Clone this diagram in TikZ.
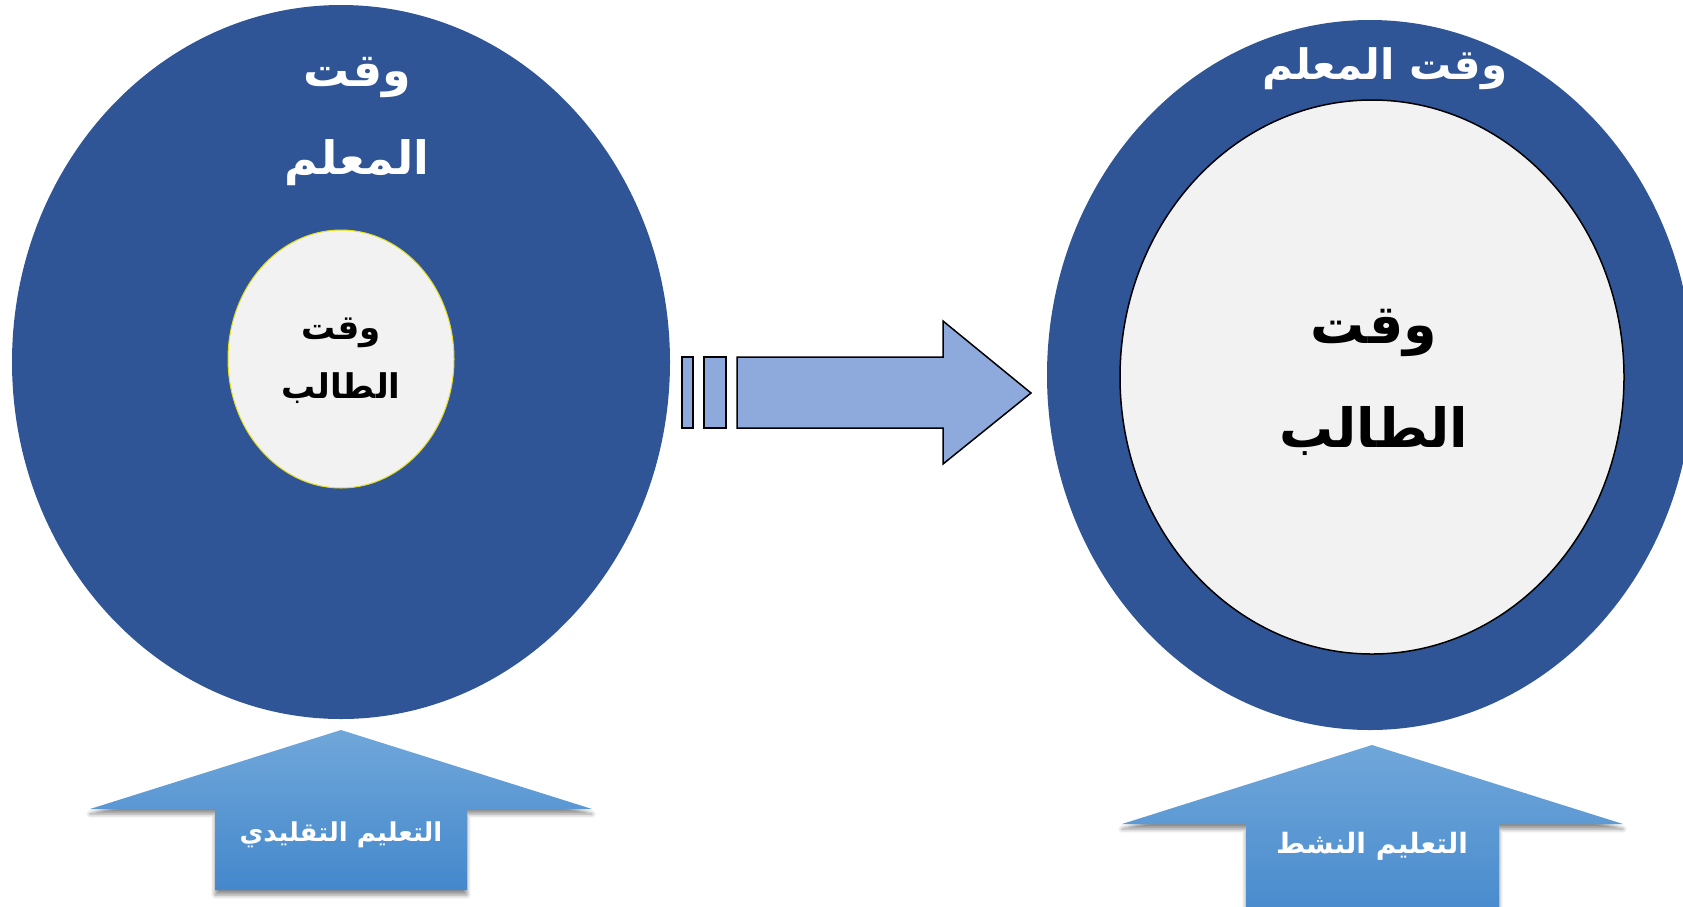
\documentclass[tikz,border=0pt]{standalone}
\usepackage{fontspec}
\newfontfamily\arabicfont[Script=Arabic]{DejaVu Sans}
\TeXXeTstate=1
\usetikzlibrary{positioning,shapes.geometric,shadows.blur}
\definecolor{TeacherBlue}{RGB}{47,85,151}
\definecolor{StudentGray}{RGB}{242,242,242}
\definecolor{ArrowBlue}{RGB}{142,169,219}
\definecolor{UpTop}{RGB}{112,167,218}
\definecolor{UpBottom}{RGB}{68,136,204}
\tikzset{
    teacher/.style={ellipse, fill=TeacherBlue, inner sep=0pt},
    student/.style={ellipse, fill=StudentGray, inner sep=0pt},
    whitetxt/.style={text=white, font=\arabicfont\bfseries, align=center, inner sep=0pt},
    blacktxt/.style={text=black, font=\arabicfont\bfseries, align=center, inner sep=0pt},
    bar/.style={fill=ArrowBlue, draw=black, line width=1.5pt, line join=miter},
    uparrow/.style={top color=UpTop, bottom color=UpBottom, draw=none,
        blur shadow={shadow xshift=0pt, shadow yshift=-5pt, shadow blur radius=4pt, shadow opacity=45}}
}
\begin{document}
\begin{tikzpicture}[x=1pt, y=-1pt]
    \useasboundingbox (0,0) rectangle (1683,906);
    % traditional side
    \node[teacher, minimum width=658pt, minimum height=714pt] (teacherL) at (341,362) {};
    \node[student, draw=yellow!90!black, line width=1pt, minimum width=226pt, minimum height=258pt] (studentL) at (341,359) {};
    \node[whitetxt, font=\arabicfont\bfseries\fontsize{46}{88}\selectfont] (teacherLtxt) at (357,122)
        {\beginR وقت\endR\\\beginR المعلم\endR};
    \node[blacktxt, font=\arabicfont\bfseries\fontsize{34}{59}\selectfont] (studentLtxt) at (341,361)
        {\beginR وقت\endR\\\beginR الطالب\endR};
    % active side
    \node[teacher, minimum width=646pt, minimum height=710pt] (teacherR) at (1370,375) {};
    \node[student, draw=black, line width=1.5pt, minimum width=504pt, minimum height=554pt] (studentR) at (1372,377) {};
    \node[whitetxt, font=\arabicfont\bfseries\fontsize{42}{52}\selectfont] (teacherRtxt) at (1385,69)
        {\beginR وقت المعلم\endR};
    \node[blacktxt, font=\arabicfont\bfseries\fontsize{54}{104}\selectfont] (studentRtxt) at (1374,382)
        {\beginR وقت\endR\\\beginR الطالب\endR};
    % middle arrow
    \draw[bar] (682,357) rectangle (693,428);
    \draw[bar] (704,357) rectangle (726,428);
    \draw[bar] (737,357) -- (943,357) -- (943,321) -- (1031,393) -- (943,464) -- (943,428) -- (737,428) -- cycle;
    % bottom arrows
    \path[uparrow] (341,730) -- (592,809) -- (467,809) -- (467,890) -- (215,890) -- (215,809) -- (90,809) -- cycle;
    \path[uparrow] (1372,745) -- (1623,824) -- (1499,824) -- (1499,930) -- (1246,930) -- (1246,824) -- (1122,824) -- cycle;
    \node[whitetxt, font=\arabicfont\bfseries\fontsize{26}{32}\selectfont] (tradtxt) at (341,835)
        {\beginR التعليم التقليدي\endR};
    \node[whitetxt, font=\arabicfont\bfseries\fontsize{28}{34}\selectfont] (activetxt) at (1372,846)
        {\beginR التعليم النشط\endR};
\end{tikzpicture}
\end{document}
